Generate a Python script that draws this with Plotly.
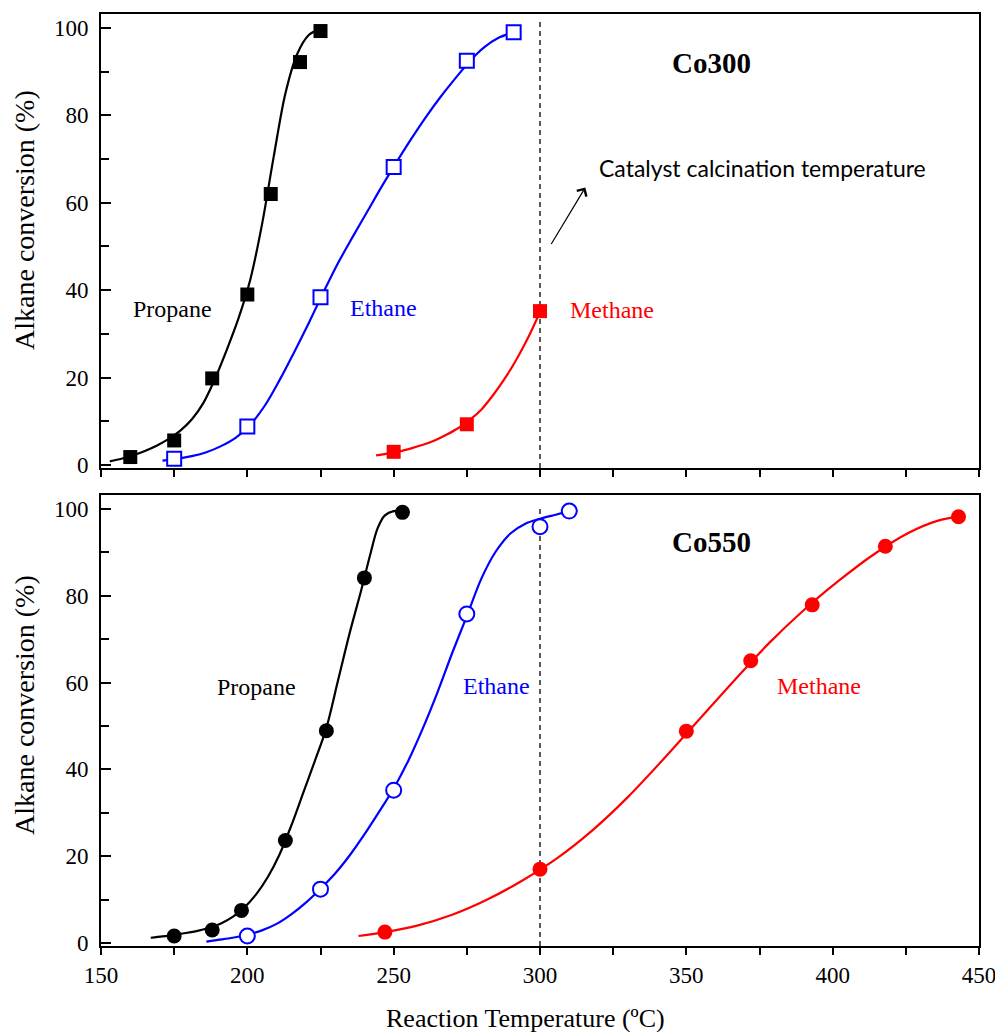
import plotly.graph_objects as go

# ---------------- data ----------------
# Co300 (top panel) measured points
co300_propane_T = [160, 175, 188, 200, 208, 218, 225]
co300_propane_X = [1.8, 5.6, 19.8, 39.0, 62.0, 92.2, 99.3]
co300_ethane_T = [175, 200, 225, 250, 275, 291]
co300_ethane_X = [1.4, 8.8, 38.4, 68.2, 92.5, 99.0]
co300_methane_T = [250, 275, 300]
co300_methane_X = [3.0, 9.3, 35.2]

# Co300 fitted curves
co300_propane_fit_T = [153, 157, 161, 165, 169, 173, 177, 181, 185, 189, 193, 197, 201, 205, 209, 213, 217, 221, 225]
co300_propane_fit_X = [0.8, 1.4, 2.2, 3.2, 4.4, 5.9, 7.8, 10.4, 14.2, 19.8, 26.4, 33.6, 42.4, 55.0, 70.5, 85.0, 94.0, 98.4, 99.8]
co300_ethane_fit_T = [171, 176, 181, 186, 191, 196, 201, 206, 211, 216, 221, 226, 231, 236, 241, 246, 251, 256, 261, 266, 271, 276, 281, 286, 291]
co300_ethane_fit_X = [1.0, 1.4, 2.0, 2.9, 4.3, 6.2, 9.2, 13.6, 19.4, 25.8, 32.5, 39.5, 46.2, 52.2, 58.0, 63.8, 69.3, 74.6, 79.6, 84.2, 88.4, 92.4, 95.6, 97.8, 99.0]
co300_methane_fit_T = [244, 248, 252, 256, 260, 264, 268, 272, 276, 280, 284, 288, 292, 296, 300]
co300_methane_fit_X = [2.2, 2.6, 3.1, 3.8, 4.6, 5.6, 6.9, 8.4, 10.3, 12.7, 16.0, 19.8, 24.2, 29.2, 35.0]

# Co550 (bottom panel) measured points
co550_propane_T = [175, 188, 198, 213, 227, 240, 253]
co550_propane_X = [1.6, 3.0, 7.5, 23.6, 48.9, 84.1, 99.2]
co550_ethane_T = [200, 225, 250, 275, 300, 310]
co550_ethane_X = [1.6, 12.4, 35.2, 75.8, 95.9, 99.5]
co550_methane_T = [247, 300, 350, 372, 393, 418, 443]
co550_methane_X = [2.5, 17.0, 48.8, 65.0, 77.9, 91.4, 98.2]

# Co550 fitted curves
co550_propane_fit_T = [167, 171, 175, 179, 183, 187, 191, 195, 199, 203, 207, 211, 215, 219, 223, 227, 231, 235, 239, 242, 244.5, 247, 250, 253]
co550_propane_fit_X = [1.2, 1.5, 1.9, 2.3, 2.8, 3.5, 4.5, 6.0, 8.2, 11.2, 15.2, 20.4, 27.0, 34.4, 41.8, 49.5, 60.5, 71.5, 81.5, 89.5, 95.5, 98.5, 99.5, 99.4]
co550_ethane_fit_T = [186, 190, 195, 200, 205, 210, 215, 220, 225, 230, 235, 240, 245, 250, 255, 260, 265, 270, 275, 280, 285, 290, 295, 300, 305, 310]
co550_ethane_fit_X = [0.3, 0.7, 1.2, 1.9, 2.9, 4.4, 6.6, 9.3, 12.5, 16.0, 20.2, 25.0, 30.2, 35.6, 42.0, 49.5, 57.8, 66.8, 75.3, 84.0, 90.3, 94.4, 96.6, 97.7, 98.6, 99.5]
co550_methane_fit_T = [238, 247, 258, 270, 282, 294, 306, 318, 330, 342, 354, 366, 378, 390, 402, 414, 426, 436, 443]
co550_methane_fit_X = [1.6, 2.5, 4.0, 6.5, 10.0, 14.4, 19.6, 26.0, 33.6, 42.2, 51.2, 60.2, 68.9, 76.6, 83.4, 89.5, 94.5, 97.3, 98.2]

calcination_T = 300
x_tickvals = [150, 200, 250, 300, 350, 400, 450]
y_tickvals = [0, 20, 40, 60, 80, 100]

# ---------------- figure ----------------
SERIF = "Liberation Serif, Times New Roman, serif"
BLACK, BLUE, RED = "#000000", "#0000FF", "#FF0000"

fig = go.Figure()

def add_panel(xa, ya, series, vline_top, msize):
    # dashed calcination temperature line
    fig.add_trace(go.Scatter(x=[calcination_T, calcination_T], y=[-0.7, vline_top],
                             mode="lines", line=dict(color="black", width=1.3, dash="5px,4px"),
                             xaxis=xa, yaxis=ya, showlegend=False, hoverinfo="skip"))
    for fitT, fitX, T, X, color, symbol, filled in series:
        fig.add_trace(go.Scatter(x=fitT, y=fitX, mode="lines",
                                 line=dict(color=color, width=2.2, shape="spline", smoothing=0.9),
                                 xaxis=xa, yaxis=ya, showlegend=False, hoverinfo="skip"))
    for fitT, fitX, T, X, color, symbol, filled in series:
        fig.add_trace(go.Scatter(x=T, y=X, mode="markers",
                                 marker=dict(symbol=symbol, size=msize,
                                             color=color if filled else "white",
                                             line=dict(color=color, width=0 if filled else 2)),
                                 xaxis=xa, yaxis=ya, showlegend=False))

add_panel("x", "y", [
    (co300_propane_fit_T, co300_propane_fit_X, co300_propane_T, co300_propane_X, BLACK, "square", True),
    (co300_ethane_fit_T, co300_ethane_fit_X, co300_ethane_T, co300_ethane_X, BLUE, "square", False),
    (co300_methane_fit_T, co300_methane_fit_X, co300_methane_T, co300_methane_X, RED, "square", True),
], 101.5, 14)

add_panel("x2", "y2", [
    (co550_propane_fit_T, co550_propane_fit_X, co550_propane_T, co550_propane_X, BLACK, "circle", True),
    (co550_ethane_fit_T, co550_ethane_fit_X, co550_ethane_T, co550_ethane_X, BLUE, "circle", False),
    (co550_methane_fit_T, co550_methane_fit_X, co550_methane_T, co550_methane_X, RED, "circle", True),
], 100.7, 15)

xax_common = dict(range=[150, 450], showgrid=False, zeroline=False, showline=True, linecolor="black",
                  linewidth=2, mirror=True, ticks="outside", ticklen=7, tickwidth=2, tickcolor="black",
                  tickvals=x_tickvals, ticklabeloverflow="allow", automargin=False,
                  minor=dict(dtick=25, tick0=150, ticks="outside", ticklen=7,
                             tickwidth=2, tickcolor="black"),
                  tickfont=dict(family=SERIF, size=23, color="black"))
yax_common = dict(range=[-0.7, 103.2], showgrid=False, zeroline=False, showline=True, linecolor="black",
                  linewidth=2, mirror=True, ticks="inside", ticklen=10, tickwidth=2, tickcolor="black",
                  tickvals=y_tickvals, automargin=False,
                  minor=dict(dtick=10, tick0=0, ticks="inside", ticklen=8,
                             tickwidth=2, tickcolor="black"),
                  tickfont=dict(family=SERIF, size=23, color="black"), ticklabelstandoff=6)

fig.update_layout(
    width=995, height=1032,
    margin=dict(l=101, r=16, t=14, b=86, autoexpand=False),
    paper_bgcolor="white", plot_bgcolor="white",
    xaxis=dict(domain=[0, 1], anchor="y", showticklabels=False, **xax_common),
    yaxis=dict(domain=[0.5129, 1], anchor="x", **yax_common),
    xaxis2=dict(domain=[0, 1], anchor="y2", showticklabels=True, **xax_common),
    yaxis2=dict(domain=[0, 0.4839], anchor="x2", **yax_common),
    showlegend=False,
)

label_font = dict(family=SERIF, size=24)
annots = [
    # top panel labels
    dict(x=174.4, y=35.7, xref="x", yref="y", text="Propane", font=dict(color=BLACK, **label_font)),
    dict(x=246.4, y=36.0, xref="x", yref="y", text="Ethane", font=dict(color=BLUE, **label_font)),
    dict(x=324.7, y=35.5, xref="x", yref="y", text="Methane", font=dict(color=RED, **label_font)),
    dict(x=358.5, y=92.1, xref="x", yref="y", text="<b>Co300</b>", font=dict(family=SERIF, size=29, color="black")),
    dict(x=319.6, y=68.0, xref="x", yref="y", text="Catalyst calcination temperature", xanchor="left",
         font=dict(family="Lato, Carlito, sans-serif", size=23, color="black")),
    # bottom panel labels
    dict(x=203.1, y=58.9, xref="x2", yref="y2", text="Propane", font=dict(color=BLACK, **label_font)),
    dict(x=285.1, y=59.1, xref="x2", yref="y2", text="Ethane", font=dict(color=BLUE, **label_font)),
    dict(x=395.4, y=59.1, xref="x2", yref="y2", text="Methane", font=dict(color=RED, **label_font)),
    dict(x=358.5, y=92.4, xref="x2", yref="y2", text="<b>Co550</b>", font=dict(family=SERIF, size=29, color="black")),
    # axis titles
    dict(x=-0.0866, y=0.779, xref="paper", yref="paper", text="Alkane conversion (%)", textangle=-90,
         font=dict(family=SERIF, size=28, color="black")),
    dict(x=-0.0866, y=0.2586, xref="paper", yref="paper", text="Alkane conversion (%)", textangle=-90,
         font=dict(family=SERIF, size=28, color="black")),
    dict(x=0.483, y=-0.0773, xref="paper", yref="paper", text="Reaction Temperature (ºC)",
         font=dict(family=SERIF, size=26, color="black")),
]
for a in annots:
    a.setdefault("showarrow", False)
    a.setdefault("xanchor", "center")
    a.setdefault("yanchor", "middle")
    fig.add_annotation(**a)

# arrow pointing to the calcination-temperature label
fig.add_annotation(x=315.5, y=63.5, xref="x", yref="y", text="", showarrow=True,
                   ax=-35, ay=58, arrowhead=4, arrowsize=1.8, arrowwidth=1.2, arrowcolor="black")

fig.write_html("out.html")
